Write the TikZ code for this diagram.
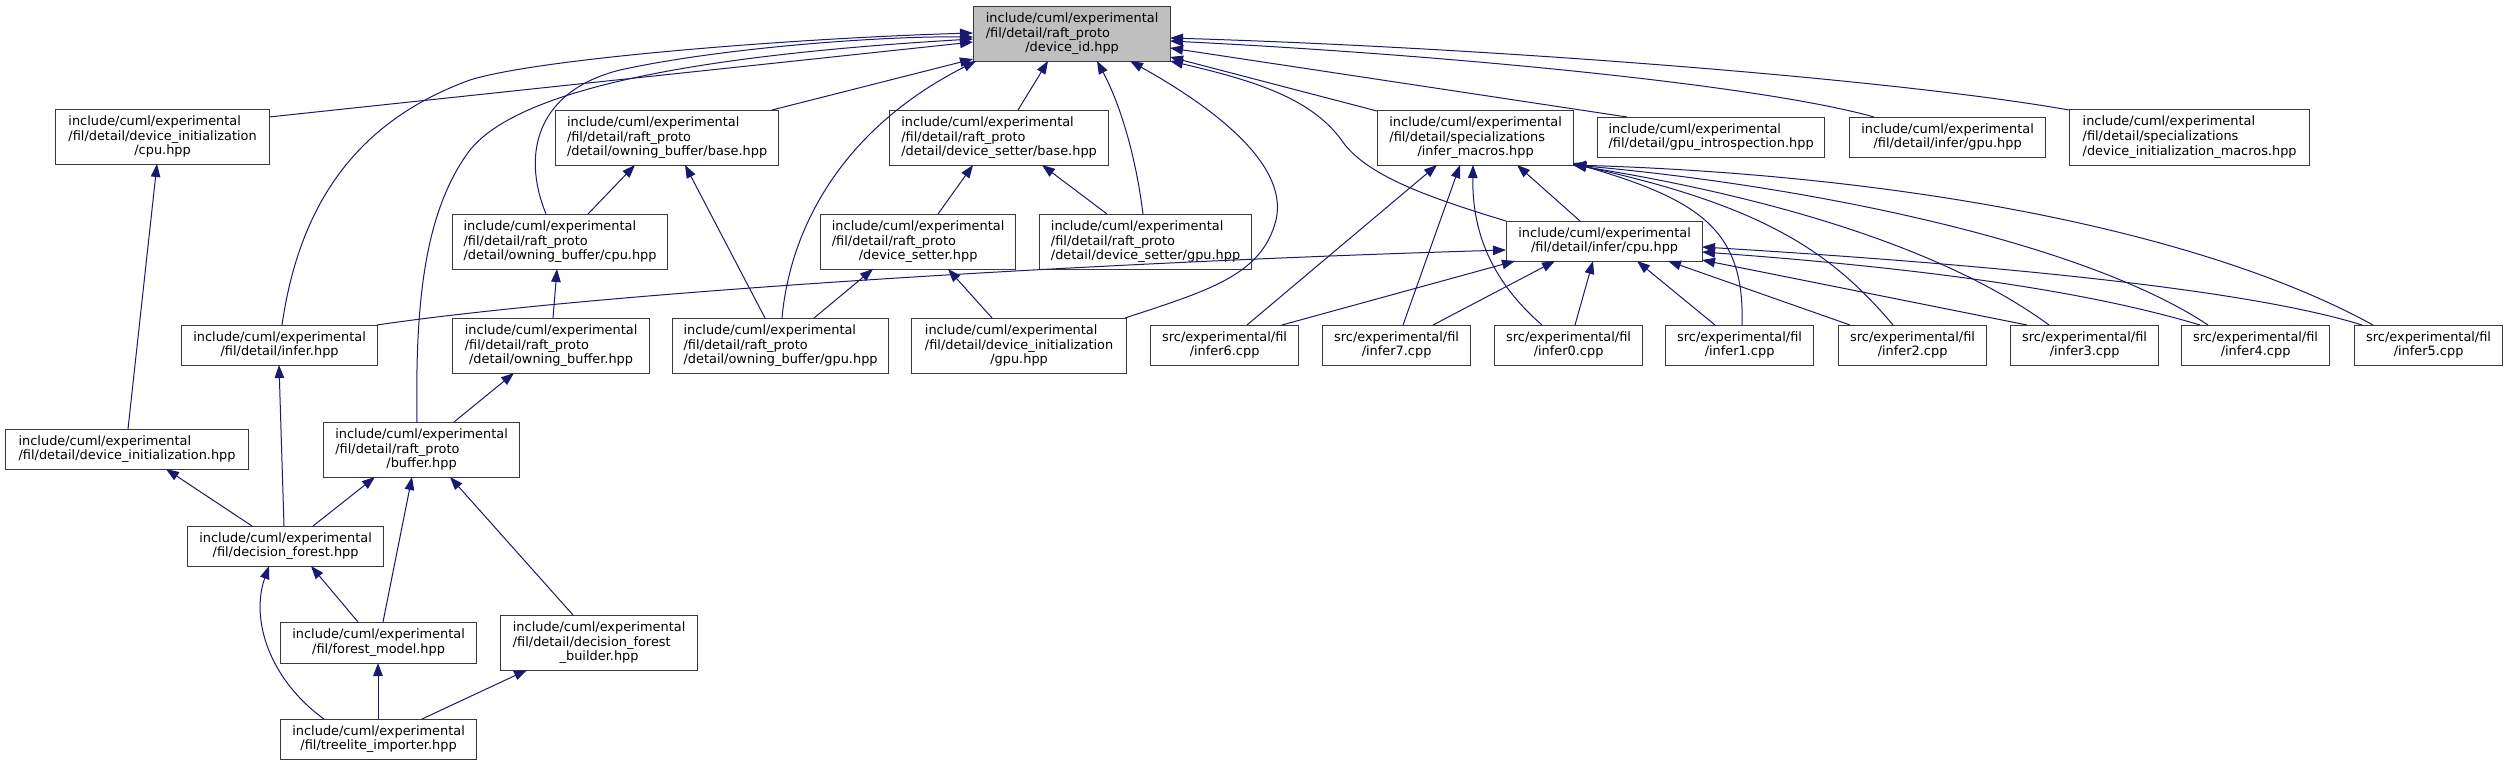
\documentclass[tikz,border=0pt]{standalone}
\usepackage{fontspec}
\setmainfont{DejaVu Sans}
\usetikzlibrary{arrows.meta,calc}
\definecolor{edgeblue}{HTML}{191970}
\definecolor{boxline}{HTML}{3A3A3A}
\definecolor{boxgray}{HTML}{BFBFBF}
\newcommand\lbltwo[2]{\begin{tabular}{@{}l@{}}#1\\\multicolumn{1}{@{}c@{}}{#2}\end{tabular}}
\newcommand\lblthree[3]{\begin{tabular}{@{}l@{}}#1\\#2\\\multicolumn{1}{@{}c@{}}{#3}\end{tabular}}
\newcommand\ice{include/cuml/experimental}
\begin{document}
\begin{tikzpicture}[x=1pt,y=-1pt,
  box/.style={draw=boxline, line width=1.2pt, fill=white, anchor=north west, inner sep=0pt,
    font=\fontsize{12.9}{14.6}\selectfont},
  w/.style 2 args={minimum width=#1pt, minimum height=#2pt},
  e/.style={draw=edgeblue, line width=1pt, -{Triangle[length=13pt,width=9.5pt]}},
]
\useasboundingbox[fill=white] (0,0) rectangle (2507,765);
% ---- nodes ----
\node[box, w={197}{55}, fill=boxgray] (id) at (973,6) {\lblthree{\ice}{/fil/detail/raft\_proto}{/device\_id.hpp}};
\node[box, w={214}{55}] (dicpu) at (55,109) {\lblthree{\ice}{/fil/detail/device\_initialization}{/cpu.hpp}};
\node[box, w={223}{55}] (obbase) at (555,110) {\lblthree{\ice}{/fil/detail/raft\_proto}{/detail/owning\_buffer/base.hpp}};
\node[box, w={219}{55}] (dsbase) at (889,110) {\lblthree{\ice}{/fil/detail/raft\_proto}{/detail/device\_setter/base.hpp}};
\node[box, w={196}{55}] (imacros) at (1377,110) {\lblthree{\ice}{/fil/detail/specializations}{/infer\_macros.hpp}};
\node[box, w={227}{40}] (gpuintro) at (1597,117) {\lbltwo{\ice}{/fil/detail/gpu\_introspection.hpp}};
\node[box, w={196}{40}] (infergpu) at (1849,117) {\lbltwo{\ice}{/fil/detail/infer/gpu.hpp}};
\node[box, w={240}{56}] (dimacros) at (2069,109) {\lblthree{\ice}{/fil/detail/specializations}{/device\_initialization\_macros.hpp}};
\node[box, w={215}{55}] (obcpu) at (452,214) {\lblthree{\ice}{/fil/detail/raft\_proto}{/detail/owning\_buffer/cpu.hpp}};
\node[box, w={195}{55}] (dsetter) at (820,214) {\lblthree{\ice}{/fil/detail/raft\_proto}{/device\_setter.hpp}};
\node[box, w={212}{55}] (dsgpu) at (1039,214) {\lblthree{\ice}{/fil/detail/raft\_proto}{/detail/device\_setter/gpu.hpp}};
\node[box, w={196}{40}] (infercpu) at (1506,221) {\lbltwo{\ice}{/fil/detail/infer/cpu.hpp}};
\node[box, w={196}{40}] (inferhpp) at (181,325) {\lbltwo{\ice}{/fil/detail/infer.hpp}};
\node[box, w={197}{55}] (obhpp) at (452,318) {\lblthree{\ice}{/fil/detail/raft\_proto}{/detail/owning\_buffer.hpp}};
\node[box, w={216}{55}] (obgpu) at (672,318) {\lblthree{\ice}{/fil/detail/raft\_proto}{/detail/owning\_buffer/gpu.hpp}};
\node[box, w={215}{55}] (digpu) at (911,318) {\lblthree{\ice}{/fil/detail/device\_initialization}{/gpu.hpp}};
\node[box, w={148}{40}] (infer6) at (1150,325) {\lbltwo{src/experimental/fil}{/infer6.cpp}};
\node[box, w={148}{40}] (infer7) at (1322,325) {\lbltwo{src/experimental/fil}{/infer7.cpp}};
\node[box, w={148}{40}] (infer0) at (1494,325) {\lbltwo{src/experimental/fil}{/infer0.cpp}};
\node[box, w={148}{40}] (infer1) at (1665,325) {\lbltwo{src/experimental/fil}{/infer1.cpp}};
\node[box, w={148}{40}] (infer2) at (1838,325) {\lbltwo{src/experimental/fil}{/infer2.cpp}};
\node[box, w={148}{40}] (infer3) at (2010,325) {\lbltwo{src/experimental/fil}{/infer3.cpp}};
\node[box, w={148}{40}] (infer4) at (2181,325) {\lbltwo{src/experimental/fil}{/infer4.cpp}};
\node[box, w={148}{40}] (infer5) at (2354,325) {\lbltwo{src/experimental/fil}{/infer5.cpp}};
\node[box, w={243}{40}] (dinit) at (5,429) {\lbltwo{\ice}{/fil/detail/device\_initialization.hpp}};
\node[box, w={196}{55}] (buffer) at (323,422) {\lblthree{\ice}{/fil/detail/raft\_proto}{/buffer.hpp}};
\node[box, w={196}{40}] (dforest) at (187,526) {\lbltwo{\ice}{/fil/decision\_forest.hpp}};
\node[box, w={196}{41}] (fmodel) at (280,622) {\lbltwo{\ice}{/fil/forest\_model.hpp}};
\node[box, w={197}{55}] (dfbuilder) at (500,615) {\lblthree{\ice}{/fil/detail/decision\_forest}{\_builder.hpp}};
\node[box, w={196}{40}] (treelite) at (280,719) {\lbltwo{\ice}{/fil/treelite\_importer.hpp}};
% ---- edges into device_id ----
\draw[e] ($(dicpu.north west)+(214,8)$) -- ($(id.north west)+(0,36)$);
\draw[e] ($(inferhpp.north west)+(101,0)$) .. controls (300,200) and (360,120) .. (470,80) .. controls (540,58) and (800,38) .. ($(id.north west)+(0,27)$);
\draw[e] ($(obcpu.north west)+(94,0)$) .. controls (520,150) and (540,90) .. (620,70) .. controls (720,48) and (880,36) .. ($(id.north west)+(0,31)$);
\draw[e] ($(buffer.north west)+(94,0)$) .. controls (415,300) and (425,210) .. (470,150) .. controls (520,88) and (700,55) .. ($(id.north west)+(0,33)$);
\draw[e] ($(obbase.north west)+(217,0)$) -- ($(id.north west)+(0,53)$);
\draw[e] ($(obgpu.north west)+(110,0)$) .. controls (790,230) and (840,130) .. ($(id.north west)+(3,55)$);
\draw[e] ($(dsbase.north west)+(129,0)$) -- ($(id.north west)+(75,55)$);
\draw[e] ($(dsgpu.north west)+(104,0)$) .. controls (1135,150) and (1118,100) .. ($(id.north west)+(124,55)$);
\draw[e] ($(digpu.north west)+(214,0)$) .. controls (1210,290) and (1262,275) .. (1276,220) .. controls (1290,160) and (1200,100) .. ($(id.north west)+(157,55)$);
\draw[e] ($(imacros.north west)+(0,1)$) -- ($(id.north west)+(197,51)$);
\draw[e] (infercpu.north west) .. controls (1420,195) and (1370,175) .. (1345,145) .. controls (1315,100) and (1260,82) .. ($(id.north west)+(197,55)$);
\draw[e] ($(gpuintro.north west)+(30,0)$) -- ($(id.north west)+(197,42)$);
\draw[e] ($(infergpu.north west)+(25,0)$) .. controls (1760,85) and (1450,55) .. ($(id.north west)+(197,35)$);
\draw[e] ($(dimacros.north west)+(0,1)$) .. controls (1900,80) and (1500,48) .. ($(id.north west)+(197,32)$);
% ---- left part ----
\draw[e] ($(dinit.north west)+(123,0)$) -- ($(dicpu.north west)+(102,55)$);
\draw[e] ($(obcpu.north west)+(136,0)$) -- ($(obbase.north west)+(80,55)$);
\draw[e] ($(obgpu.north west)+(93,0)$) -- ($(obbase.north west)+(130,55)$);
\draw[e] ($(obhpp.north west)+(101,0)$) -- ($(obcpu.north west)+(105,55)$);
\draw[e] ($(buffer.north west)+(131,0)$) -- ($(obhpp.north west)+(62,55)$);
\draw[e] ($(dsetter.north west)+(118,0)$) -- ($(dsbase.north west)+(84,55)$);
\draw[e] ($(dsgpu.north west)+(68,0)$) -- ($(dsbase.north west)+(153,55)$);
\draw[e] ($(obgpu.north west)+(142,0)$) -- ($(dsetter.north west)+(53,55)$);
\draw[e] ($(digpu.north west)+(81,0)$) -- ($(dsetter.north west)+(128,55)$);
\draw[e] ($(inferhpp.north west)+(196,0)$) .. controls (600,292) and (1100,262) .. ($(infercpu.north west)+(0,29)$);
\draw[e] ($(dforest.north west)+(65,0)$) -- ($(dinit.north west)+(161,40)$);
\draw[e] ($(dforest.north west)+(97,0)$) -- ($(inferhpp.north west)+(98,40)$);
\draw[e] ($(dforest.north west)+(126,0)$) -- ($(buffer.north west)+(52,55)$);
\draw[e] ($(fmodel.north west)+(78,0)$) -- ($(dforest.north west)+(124,40)$);
\draw[e] ($(fmodel.north west)+(103,0)$) -- ($(buffer.north west)+(89,55)$);
\draw[e] ($(dfbuilder.north west)+(73,0)$) -- ($(buffer.north west)+(127,55)$);
\draw[e] ($(treelite.north west)+(44,0)$) .. controls (270,680) and (250,620) .. ($(dforest.north west)+(82,40)$);
\draw[e] ($(treelite.north west)+(98,0)$) -- ($(fmodel.north west)+(98,41)$);
\draw[e] ($(treelite.north west)+(142,0)$) -- ($(dfbuilder.north west)+(27,55)$);
% ---- infer sources ----
\draw[e] ($(infer6.north west)+(97,0)$) -- ($(imacros.north west)+(60,55)$);
\draw[e] ($(infer6.north west)+(132,0)$) -- ($(infercpu.north west)+(9,40)$);
\draw[e] ($(infer7.north west)+(81,0)$) -- ($(imacros.north west)+(83,55)$);
\draw[e] ($(infer7.north west)+(111,0)$) -- ($(infercpu.north west)+(49,40)$);
\draw[e] ($(infer0.north west)+(48,0)$) .. controls (1490,280) and (1472,230) .. ($(imacros.north west)+(96,55)$);
\draw[e] ($(infer0.north west)+(81,0)$) -- ($(infercpu.north west)+(87,40)$);
\draw[e] ($(infercpu.north west)+(74,0)$) -- ($(imacros.north west)+(140,55)$);
\draw[e] ($(infer1.north west)+(50,0)$) -- ($(infercpu.north west)+(131,40)$);
\draw[e] ($(infer1.north west)+(77,0)$) .. controls (1745,230) and (1700,200) .. ($(imacros.north west)+(196,53)$);
\draw[e] ($(infer2.north west)+(12,0)$) -- ($(infercpu.north west)+(162,40)$);
\draw[e] ($(infer2.north west)+(55,0)$) .. controls (1830,250) and (1760,205) .. ($(imacros.north west)+(196,54)$);
\draw[e] ($(infer3.north west)+(17,0)$) -- ($(infercpu.north west)+(196,39)$);
\draw[e] ($(infer3.north west)+(39,0)$) .. controls (1940,245) and (1760,195) .. ($(imacros.north west)+(196,55)$);
\draw[e] ($(infer4.north west)+(19,0)$) .. controls (2100,295) and (1950,270) .. ($(infercpu.north west)+(196,31)$);
\draw[e] ($(infer4.north west)+(27,0)$) .. controls (2080,240) and (1800,185) .. ($(imacros.north west)+(196,55)$);
\draw[e] ($(infer5.north west)+(8,0)$) .. controls (2250,290) and (2000,265) .. ($(infercpu.north west)+(196,26)$);
\draw[e] ($(infer5.north west)+(19,0)$) .. controls (2200,230) and (1900,175) .. ($(imacros.north west)+(196,55)$);
\end{tikzpicture}
\end{document}
